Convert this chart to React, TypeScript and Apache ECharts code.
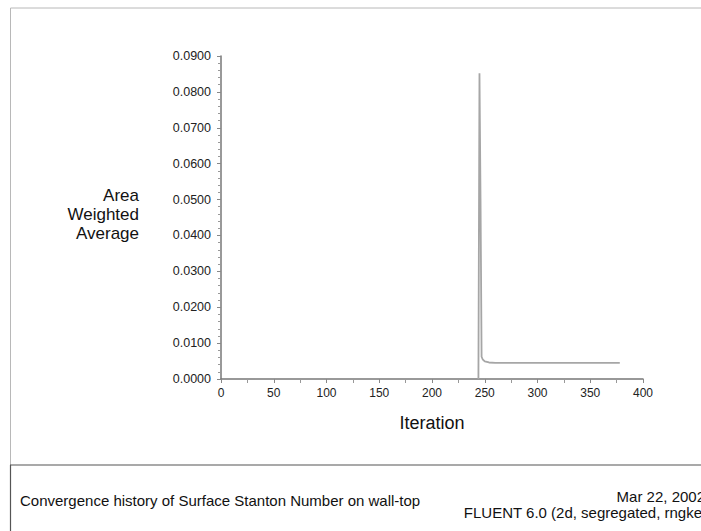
import React, { useEffect, useRef } from "react";
import * as echarts from "echarts";

const iterations = [244, 245, 246, 247, 248, 250, 254, 260, 280, 300, 340, 378];
const stantonValues = [0, 0.0852, 0.0502, 0.0062, 0.0055, 0.0049, 0.0046, 0.0045, 0.0045, 0.0045, 0.0045, 0.0045];
const yTickValues = [0, 0.01, 0.02, 0.03, 0.04, 0.05, 0.06, 0.07, 0.08, 0.09];
const xTickValues = [0, 50, 100, 150, 200, 250, 300, 350, 400];

const FONT = "'Liberation Sans', Arial, sans-serif";

export default function App() {
  const ref = useRef<HTMLDivElement>(null);
  useEffect(() => {
    if (!ref.current) return;
    const chart = echarts.init(ref.current, null, { renderer: "svg" });
    const data = iterations.map((it, i) => [it, stantonValues[i]]);
    chart.setOption({
      animation: false,
      backgroundColor: "#ffffff",
      grid: { left: 221, right: 58, top: 56, bottom: 152, containLabel: false },
      xAxis: {
        type: "value",
        min: xTickValues[0],
        max: xTickValues[xTickValues.length - 1],
        interval: 50,
        axisLine: { show: true, lineStyle: { color: "#777", width: 1.5 } },
        axisTick: { show: true, length: 4, lineStyle: { color: "#888" } },
        minorTick: { show: true, splitNumber: 2, length: 4, lineStyle: { color: "#999" } },
        splitLine: { show: false },
        axisLabel: { color: "#222", fontFamily: FONT, fontSize: 12, margin: 8 },
      },
      yAxis: {
        type: "value",
        min: yTickValues[0],
        max: yTickValues[yTickValues.length - 1],
        interval: 0.01,
        axisLine: { show: true, lineStyle: { color: "#777", width: 1.5 } },
        axisTick: { show: true, length: 4, lineStyle: { color: "#888" } },
        minorTick: { show: true, splitNumber: 5, length: 3, lineStyle: { color: "#999" } },
        splitLine: { show: false },
        axisLabel: {
          color: "#222",
          fontFamily: FONT,
          fontSize: 12.5,
          margin: 10,
          formatter: (v: number) => v.toFixed(4),
        },
      },
      series: [
        {
          type: "line",
          data,
          showSymbol: false,
          symbol: "none",
          lineStyle: { color: "#a6a6a6", width: 1.8 },
          z: 3,
        },
      ],
      graphic: [
        {
          type: "polyline",
          silent: true,
          shape: { points: [[710, 8], [10.5, 8], [10.5, 540]] },
          style: { stroke: "#b8b8b8", lineWidth: 1, fill: "none" },
        },
        {
          type: "line",
          silent: true,
          shape: { x1: 10, y1: 465, x2: 710, y2: 465 },
          style: { stroke: "#555", lineWidth: 1.2 },
        },
        {
          type: "line",
          silent: true,
          shape: { x1: 10.5, y1: 465, x2: 10.5, y2: 540 },
          style: { stroke: "#555", lineWidth: 1.2 },
        },
        {
          type: "text",
          silent: true,
          x: 139,
          y: 214,
          style: {
            text: "Area\nWeighted\nAverage",
            font: `17px ${FONT}`,
            fill: "#111",
            align: "right",
            verticalAlign: "middle",
            lineHeight: 19,
          },
        },
        {
          type: "text",
          silent: true,
          x: 432,
          y: 423,
          style: {
            text: "Iteration",
            font: `18px ${FONT}`,
            fill: "#111",
            align: "center",
            verticalAlign: "middle",
          },
        },
        {
          type: "text",
          silent: true,
          x: 20,
          y: 500,
          style: {
            text: "Convergence history of Surface Stanton Number on wall-top",
            font: `15px ${FONT}`,
            fill: "#111",
            align: "left",
            verticalAlign: "middle",
          },
        },
        {
          type: "text",
          silent: true,
          x: 705,
          y: 496,
          style: {
            text: "Mar 22, 2002",
            font: `15px ${FONT}`,
            fill: "#111",
            align: "right",
            verticalAlign: "middle",
          },
        },
        {
          type: "text",
          silent: true,
          x: 707,
          y: 512,
          style: {
            text: "FLUENT 6.0 (2d, segregated, rngke)",
            font: `15px ${FONT}`,
            fill: "#111",
            align: "right",
            verticalAlign: "middle",
          },
        },
      ],
    });
    return () => chart.dispose();
  }, []);
  return (
    <div
      ref={ref}
      style={{ position: "absolute", left: 0, top: 0, width: 701, height: 531, overflow: "hidden" }}
    />
  );
}
